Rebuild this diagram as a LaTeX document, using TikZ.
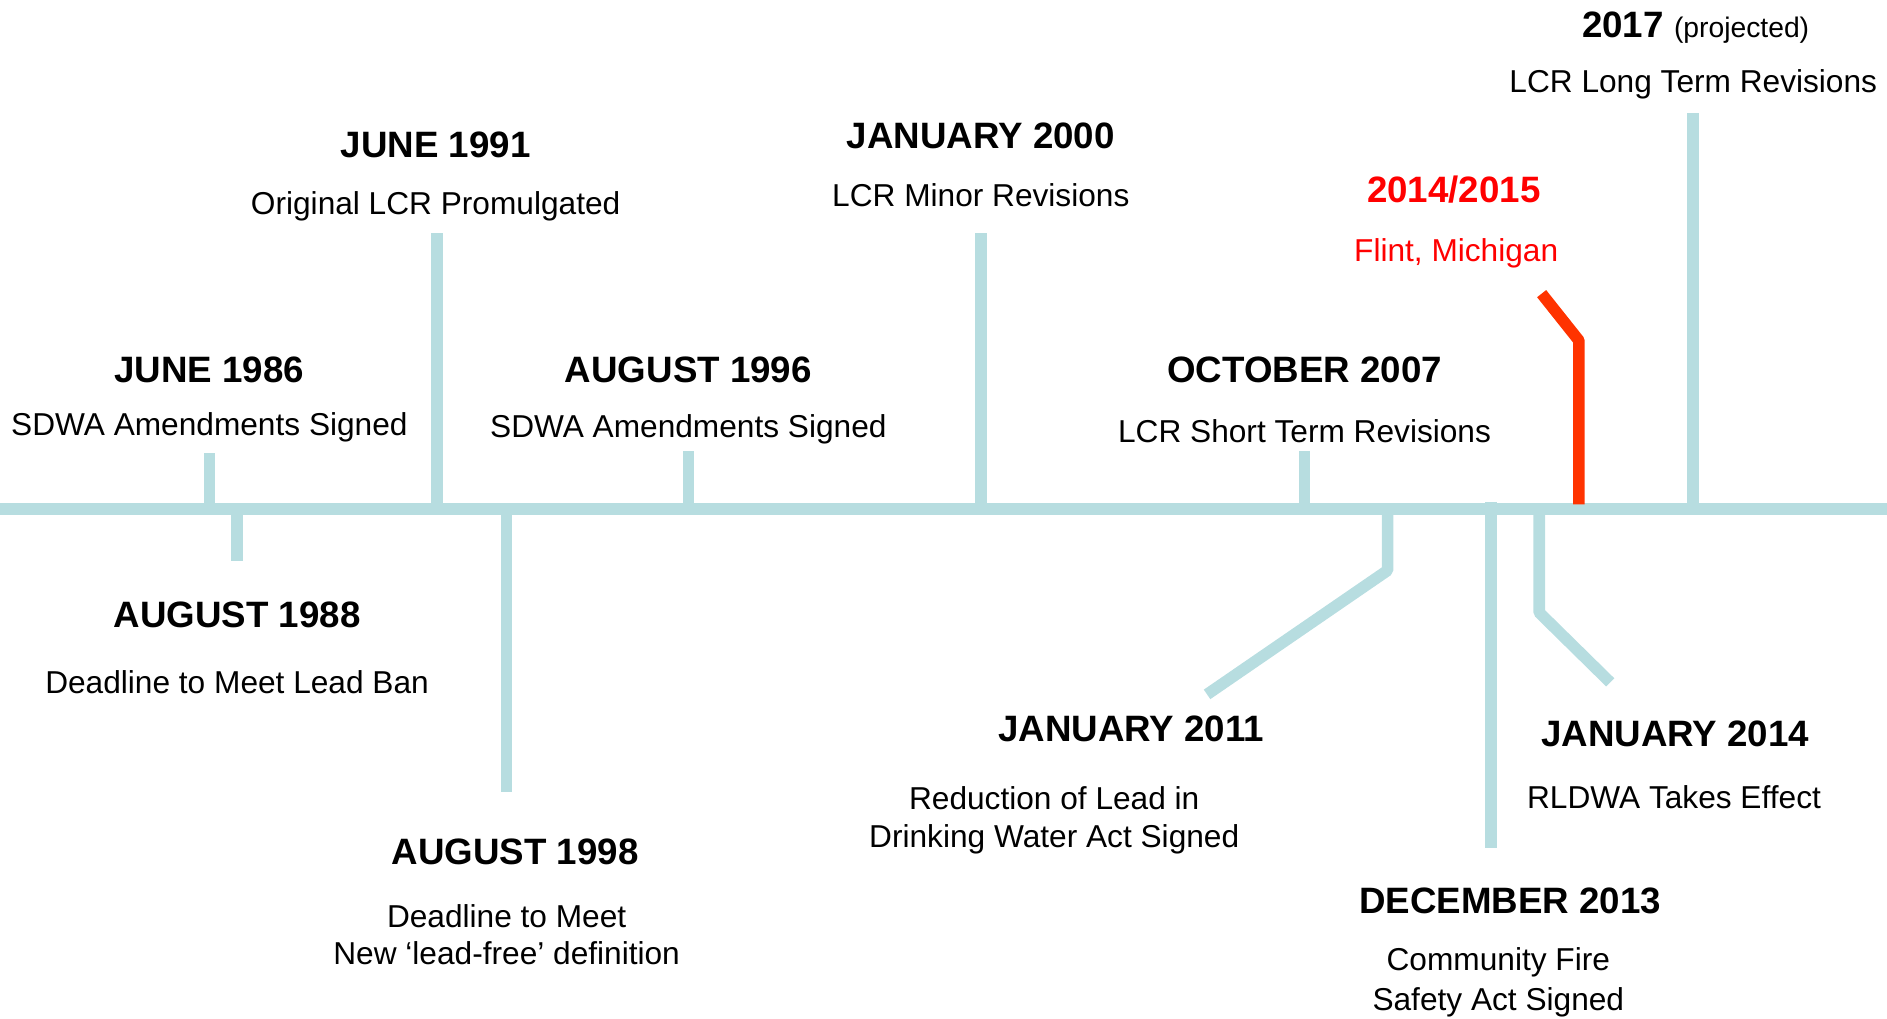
\documentclass[tikz,border=0pt]{standalone}
\usepackage{fontspec}
\setmainfont{Liberation Sans}
\definecolor{axisblue}{RGB}{183,221,224}
\definecolor{flintline}{RGB}{255,51,0}
\definecolor{flinttext}{RGB}{255,0,0}
\tikzset{
  datelabel/.style={font=\fontsize{30.5}{36}\selectfont\bfseries, anchor=base, inner sep=0pt},
  eventlabel/.style={font=\fontsize{26.3}{32}\selectfont, anchor=base, inner sep=0pt},
  axisline/.style={draw=axisblue, line width=10pt},
  stem/.style={draw=axisblue, line width=9.6pt, line join=bevel},
  redstem/.style={draw=flintline, line width=9.6pt, line join=bevel},
}
\begin{document}
\begin{tikzpicture}[x=1pt, y=-1pt]
  \useasboundingbox (0,0) rectangle (1568,846);

  % main time axis
  \coordinate (axL) at (0,423);
  \coordinate (axR) at (1568,423);

  % stems: foot on the axis, free end away from it
  \coordinate (a86) at (174,423);  \coordinate (e86) at (174,376);
  \coordinate (a88) at (197,423);  \coordinate (e88) at (197,466);
  \coordinate (a91) at (363,423);  \coordinate (e91) at (363,194);
  \coordinate (a96) at (572,423);  \coordinate (e96) at (572,375);
  \coordinate (a98) at (421,423);  \coordinate (e98) at (421,658);
  \coordinate (a00) at (815,423);  \coordinate (e00) at (815,194);
  \coordinate (a07) at (1084,423); \coordinate (e07) at (1084,375);
  \coordinate (a11) at (1153,423); \coordinate (k11) at (1153,474); \coordinate (e11) at (1003,577);
  \coordinate (a13) at (1239,417); \coordinate (e13) at (1239,705);
  \coordinate (a14) at (1279,423); \coordinate (k14) at (1279,509); \coordinate (e14) at (1338,567);
  \coordinate (a15) at (1312,419); \coordinate (k15) at (1312,283); \coordinate (e15) at (1281,244);
  \coordinate (a17) at (1407,423); \coordinate (e17) at (1407,94);

  \draw[stem] (a86) -- (e86);
  \draw[stem] (a88) -- (e88);
  \draw[stem] (a91) -- (e91);
  \draw[stem] (a96) -- (e96);
  \draw[stem] (a98) -- (e98);
  \draw[stem] (a00) -- (e00);
  \draw[stem] (a07) -- (e07);
  \draw[stem] (a11) -- (k11) -- (e11);
  \draw[stem] (a13) -- (e13);
  \draw[stem] (a14) -- (k14) -- (e14);
  \draw[stem] (a17) -- (e17);
  \draw[axisline] (axL) -- (axR);
  \draw[redstem] (a15) -- (k15) -- (e15);

  % labels
  \node[datelabel]  (d86) at (174,318)   {JUNE 1986};
  \node[eventlabel] (t86) at (174,361.5) {SDWA Amendments Signed};

  \node[datelabel]  (d88) at (197,521)   {AUGUST 1988};
  \node[eventlabel] (t88) at (197,576.5) {Deadline to Meet Lead Ban};

  \node[datelabel]  (d91) at (362,131)   {JUNE 1991};
  \node[eventlabel] (t91) at (362,178.5) {Original LCR Promulgated};

  \node[datelabel]  (d96) at (572,318)   {AUGUST 1996};
  \node[eventlabel] (t96) at (572,363.5) {SDWA Amendments Signed};

  \node[datelabel]  (d98) at (428,718)   {AUGUST 1998};
  \node[eventlabel] (t98a) at (421,770.5) {Deadline to Meet};
  \node[eventlabel] (t98b) at (421,801.5) {New ‘lead-free’ definition};

  \node[datelabel]  (d00) at (815,123)   {JANUARY 2000};
  \node[eventlabel] (t00) at (815,171.5) {LCR Minor Revisions};

  \node[datelabel]  (d07) at (1084,318)   {OCTOBER 2007};
  \node[eventlabel] (t07) at (1084,367.5) {LCR Short Term Revisions};

  \node[datelabel]  (d11) at (940,616)   {JANUARY 2011};
  \node[eventlabel] (t11a) at (876,672.5) {Reduction of Lead in};
  \node[eventlabel] (t11b) at (876,704.5) {Drinking Water Act Signed};

  \node[datelabel]  (d13) at (1255,759)   {DECEMBER 2013};
  \node[eventlabel] (t13a) at (1245,806.5) {Community Fire};
  \node[eventlabel] (t13b) at (1245,839.5) {Safety Act Signed};

  \node[datelabel]  (d14) at (1392,620)   {JANUARY 2014};
  \node[eventlabel] (t14) at (1391,671.5) {RLDWA Takes Effect};

  \node[datelabel, text=flinttext]  (d15) at (1208,168)   {2014/2015};
  \node[eventlabel, text=flinttext] (t15) at (1210,217.5) {Flint, Michigan};

  \node[datelabel]  (d17) at (1409,31)
    {2017 {\fontsize{23.5}{28}\selectfont\mdseries (projected)}};
  \node[eventlabel] (t17) at (1407,76.5) {LCR Long Term Revisions};
\end{tikzpicture}
\end{document}
